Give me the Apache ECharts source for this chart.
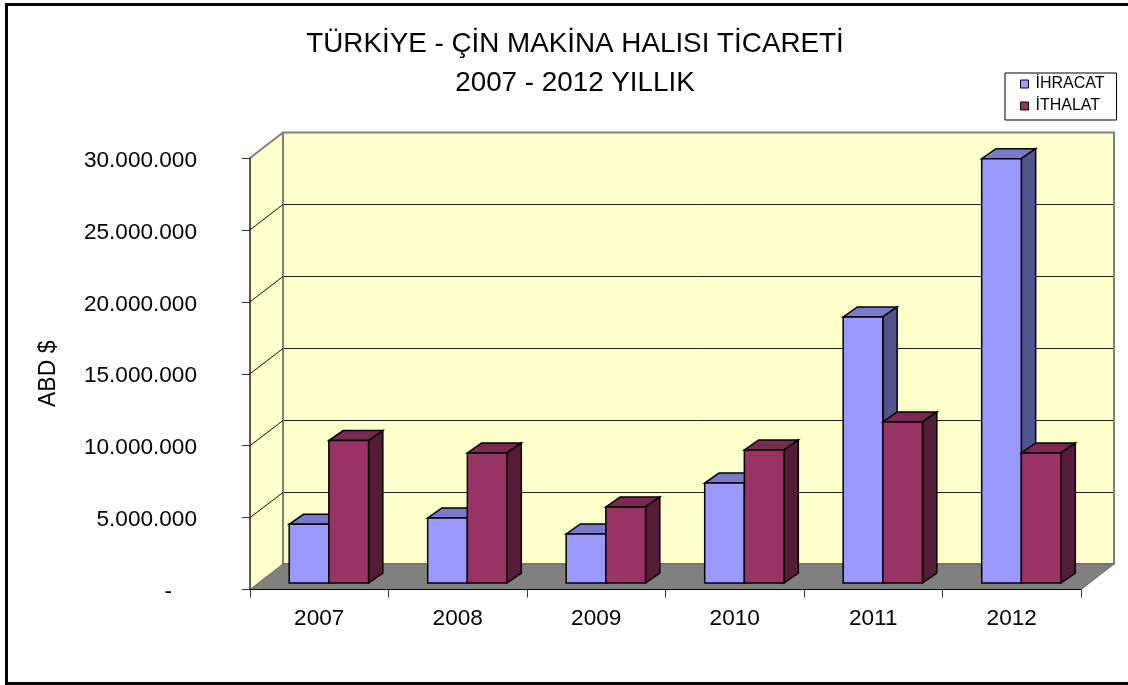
<!DOCTYPE html>
<html><head><meta charset="utf-8">
<style>html,body{margin:0;padding:0;background:#fff}#c{width:1128px;height:685px}</style>
<script src="https://cdn.jsdelivr.net/npm/echarts@6/dist/echarts.min.js"></script>
</head><body><div id="c"></div>
<script>
const categories = ['2007','2008','2009','2010','2011','2012'];
const ihracat = [4080000,4520000,3410000,6950000,18500000,29500000];
const ithalat = [9900000,9040000,5290000,9250000,11200000,9040000];
const gridValues = [5000000,10000000,15000000,20000000,25000000];
const titleLines = ['TÜRKİYE - ÇİN MAKİNA HALISI TİCARETİ','2007 - 2012 YILLIK'];
const FONT = '"Liberation Sans", Arial, sans-serif';
const WALL_DX = 33, WALL_DY = -25.5;      // depth of the chart box
const BAR_DX = 9.6, BAR_DY = -6.5;        // bar plane inside the box
const DEPTH_DX = 14.3, DEPTH_DY = -10;    // depth of a bar
const BAR_FRAC = 0.2864;

const chart = echarts.init(document.getElementById('c'), null, {renderer:'canvas'});

function poly(points, fill, stroke, lw){
  return {type:'polygon', shape:{points}, style:{fill, stroke:stroke||'none', lineWidth:lw||0, lineJoin:'miter'}};
}
function edges(api){
  const band = api.size([1,0])[0];
  const x0 = api.coord([0,0])[0]-band/2;
  const x1 = api.coord([categories.length-1,0])[0]+band/2;
  return {x0,x1,band};
}
function wallItem(params, api){
  const {x0,x1} = edges(api);
  const yb = api.coord([0,0])[1], yt = api.coord([0,30000000])[1];
  const dx=WALL_DX, dy=WALL_DY, gray='#808080';
  return {type:'group', children:[
    poly([[x0,yb],[x0+dx,yb+dy],[x0+dx,yt+dy],[x0,yt]],'#FFFFCC'),
    poly([[x0+dx,yb+dy],[x1+dx,yb+dy],[x1+dx,yt+dy],[x0+dx,yt+dy]],'#FFFFCC',gray,2),
    poly([[x0,yb],[x1,yb],[x1+dx,yb+dy],[x0+dx,yb+dy]],'#808080','#666666',1),
    {type:'line',shape:{x1:x0,y1:yt,x2:x0+dx,y2:yt+dy},style:{stroke:gray,lineWidth:2}}
  ]};
}
function gridItem(params, api){
  const {x0,x1} = edges(api);
  const y = api.coord([0,api.value(0)])[1];
  const yBack = Math.round(y+WALL_DY)+0.5;
  return {type:'group', children:[
    {type:'line',shape:{x1:x0,y1:y,x2:x0+WALL_DX,y2:yBack},style:{stroke:'#111',lineWidth:1}},
    {type:'line',shape:{x1:x0+WALL_DX+1,y1:yBack,x2:x1+WALL_DX-1,y2:yBack},style:{stroke:'#222',lineWidth:1}}
  ]};
}
function barRenderer(slot, front, top, side){
  return function(params, api){
    const i = api.value(0), v = api.value(1);
    const band = api.size([1,0])[0], w = band*BAR_FRAC;
    const cx = api.coord([i,0])[0];
    const l = cx-w+slot*w+BAR_DX, r = l+w;
    const b = api.coord([i,0])[1]+BAR_DY, t = api.coord([i,v])[1]+BAR_DY;
    const dx=DEPTH_DX, dy=DEPTH_DY, k='#000', lw=1.5;
    return {type:'group', children:[
      poly([[l,t],[r,t],[r+dx,t+dy],[l+dx,t+dy]],top,k,lw),
      poly([[r,b],[r+dx,b+dy],[r+dx,t+dy],[r,t]],side,k,lw),
      poly([[l,b],[r,b],[r,t],[l,t]],front,k,lw)
    ]};
  };
}
const tickStyle = {fontFamily:FONT,fontSize:22.6,color:'#000'};
chart.setOption({
  animation:false,
  backgroundColor:'#fff',
  title:{text:titleLines.join('\n'),left:570,top:20,textAlign:'center',
    textStyle:{fontFamily:FONT,fontSize:27.8,fontWeight:'normal',color:'#000',lineHeight:39}},
  legend:{left:1005,top:73,orient:'vertical',data:['İHRACAT','İTHALAT'],icon:'rect',
    itemWidth:8,itemHeight:8,itemGap:4,padding:[2,12,5,15],
    backgroundColor:'#fff',borderColor:'#000',borderWidth:1,borderRadius:0,
    itemStyle:{borderColor:'#000',borderWidth:1},
    textStyle:{fontFamily:FONT,fontSize:16,color:'#000',lineHeight:18,padding:[0,0,0,2]}},
  grid:{left:250,right:47,top:158,bottom:95.5},
  xAxis:{type:'category',data:categories,boundaryGap:true,
    axisLine:{lineStyle:{color:'#000',width:1}},
    axisTick:{show:true,length:8,alignWithLabel:false,lineStyle:{color:'#333'}},
    axisLabel:{...tickStyle,margin:18},splitLine:{show:false},z:5},
  yAxis:{type:'value',min:0,max:30000000,interval:5000000,
    name:'ABD $',nameLocation:'middle',nameGap:190,nameRotate:90,
    nameTextStyle:{fontFamily:FONT,fontSize:23,color:'#000'},
    axisLine:{show:true,lineStyle:{color:'#222',width:1.5}},
    axisTick:{show:true,length:8,lineStyle:{color:'#333'}},
    axisLabel:{...tickStyle,margin:53,
      rich:{n:{...tickStyle,padding:[5,0,0,0]},z:{...tickStyle,padding:[5,25,0,0]}},
      formatter:v=>v===0?'{z|-}':'{n|'+String(v).replace(/\B(?=(\d{3})+$)/g,'.')+'}'},
    splitLine:{show:false},z:5},
  graphic:[{type:'rect',shape:{x:6.5,y:4.5,width:1130,height:679},silent:true,
    style:{fill:'none',stroke:'#000',lineWidth:3},z:100}],
  series:[
    {type:'custom',name:'wall',data:[[0]],renderItem:wallItem,clip:false,silent:true,z:1,encode:{x:0}},
    {type:'custom',name:'grid',data:gridValues.map(v=>[v]),renderItem:gridItem,clip:false,silent:true,z:2,encode:{y:0}},
    {type:'custom',name:'İHRACAT',itemStyle:{color:'#9999FF'},data:ihracat.map((v,i)=>[i,v]),
      renderItem:barRenderer(0,'#9999FF','#7A7ACC','#54548C'),clip:false,z:3,encode:{x:0,y:1}},
    {type:'custom',name:'İTHALAT',itemStyle:{color:'#993366'},data:ithalat.map((v,i)=>[i,v]),
      renderItem:barRenderer(1,'#993366','#7A2952','#541C38'),clip:false,z:3,encode:{x:0,y:1}}
  ]
});
</script></body></html>
